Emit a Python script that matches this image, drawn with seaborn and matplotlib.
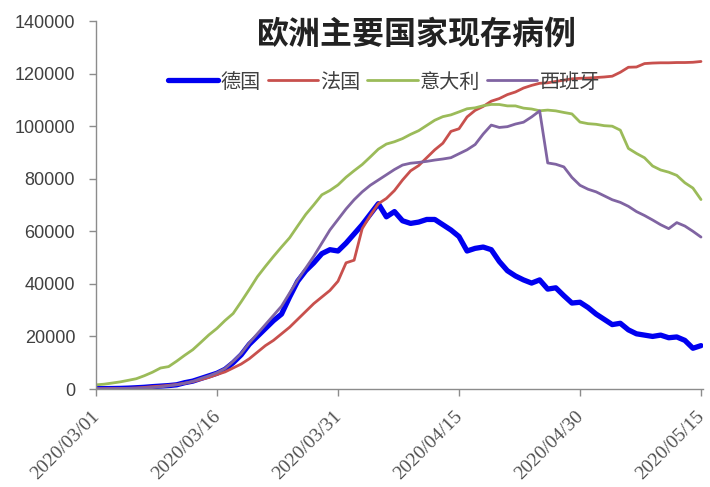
import numpy as np
import pandas as pd
import matplotlib
matplotlib.use("Agg")
import matplotlib.pyplot as plt
from matplotlib.transforms import ScaledTranslation
import seaborn as sns

# Daily active cases, 2020-03-01 .. 2020-05-15
dates = pd.date_range("2020-03-01", "2020-05-15", freq="D")
countries = ["德国", "法国", "意大利", "西班牙"]

germany = [120, 150, 180, 230, 330, 480, 650, 900, 1100, 1300,
           1600, 2400, 3000, 4000, 5000, 6000, 7500, 10000, 13000, 17000,
           20000, 23000, 26000, 28500, 35000, 41000, 45000, 48000, 51500, 53000,
           52500, 55500, 59000, 62500, 66500, 70500, 65500, 67500, 64000, 63000,
           63500, 64500, 64500, 62500, 60500, 58000, 52500, 53500, 54000, 53000,
           48500, 45000, 43000, 41500, 40300, 41500, 38000, 38500, 35500, 32700,
           33000, 31000, 28500, 26500, 24500, 25000, 22500, 21000, 20500, 20000,
           20500, 19500, 19800, 18500, 15500, 16500]

france = [100, 120, 170, 190, 260, 380, 600, 900, 1100, 1400,
          1700, 2200, 2800, 3600, 4400, 5500, 6500, 8000, 9500, 11500,
          14000, 16500, 18500, 21000, 23500, 26500, 29500, 32500, 35000, 37500,
          41000, 48000, 49000, 61000, 66000, 70500, 72500, 75500, 79500, 83000,
          85000, 88000, 91000, 93500, 98000, 99000, 103500, 106000, 107500, 109500,
          110500, 112000, 113000, 114500, 115500, 116300, 116500, 117000, 117500, 118000,
          118200, 118300, 118500, 118700, 119000, 120500, 122400, 122500, 123800, 124000,
          124100, 124100, 124200, 124200, 124300, 124600]

italy = [1577, 1835, 2263, 2706, 3296, 3916, 5061, 6387, 7985, 8514,
         10590, 12839, 14955, 17750, 20603, 23073, 26062, 28710, 33190, 37860,
         42681, 46638, 50418, 54030, 57521, 62013, 66414, 70065, 73880, 75528,
         77635, 80572, 83049, 85388, 88274, 91246, 93187, 94067, 95262, 96877,
         98273, 100269, 102253, 103616, 104291, 105418, 106607, 106962, 107771, 108257,
         108237, 107709, 107699, 106848, 106527, 105847, 106103, 105813, 105205, 104657,
         101551, 100943, 100704, 100179, 99980, 98467, 91528, 89624, 87961, 84842,
         83324, 82488, 81266, 78457, 76440, 72070]

spain = [80, 100, 130, 180, 230, 300, 400, 550, 800, 1200,
         1600, 2200, 2900, 4000, 5000, 6200, 7800, 10500, 13500, 17500,
         21000, 24500, 28000, 31500, 36500, 41500, 46000, 50500, 55500, 60500,
         64500, 68500, 72000, 75000, 77500, 79500, 81500, 83500, 85200, 85900,
         86200, 86600, 87100, 87500, 88000, 89500, 91000, 93000, 97000, 100400,
         99500, 99800, 100800, 101500, 103500, 105800, 86000, 85500, 84500, 80500,
         77500, 76000, 75000, 73500, 72000, 71000, 69500, 67500, 66000, 64300,
         62500, 61000, 63300, 62000, 60000, 57800]

tick_labels = ["2020/03/01", "2020/03/16", "2020/03/31",
               "2020/04/15", "2020/04/30", "2020/05/15"]
y_ticks = [0, 20000, 40000, 60000, 80000, 100000, 120000, 140000]

wide = pd.DataFrame({"day": np.arange(len(dates)),
                     "德国": germany, "法国": france,
                     "意大利": italy, "西班牙": spain})
long = wide.melt(id_vars="day", var_name="country", value_name="cases")

colors = {"德国": "#0000F0", "法国": "#C8504D", "意大利": "#9BBB59", "西班牙": "#8064A2"}
widths = {"德国": 3.8, "法国": 2.0, "意大利": 2.0, "西班牙": 2.0}

sns.set_theme(style="white")
plt.rcParams["font.family"] = ["Liberation Sans", "Noto Sans CJK SC", "DejaVu Sans"]

fig = plt.figure(figsize=(7.1, 4.87), dpi=100)
ax = fig.add_axes([96 / 710, 1 - 389 / 487, 607 / 710, 368 / 487])

for name in countries:
    sns.lineplot(data=long[long["country"] == name], x="day", y="cases",
                 color=colors[name], linewidth=widths[name], label=name,
                 ax=ax, legend=False)

ax.set_xlim(0, 75.25)
ax.set_ylim(0, 140000)
ax.set_xlabel("")
ax.set_ylabel("")

axis_gray = "#8C8C8C"
for side in ["top", "right"]:
    ax.spines[side].set_visible(False)
for side in ["left", "bottom"]:
    ax.spines[side].set_color(axis_gray)
    ax.spines[side].set_linewidth(1.0)

ax.set_yticks(y_ticks)
ax.set_yticklabels([str(v) for v in y_ticks], fontsize=13, color="#404040",
                   family=["Liberation Sans"])
ax.set_xticks(np.arange(0, 76, 15))
ax.set_xticklabels(tick_labels, fontsize=14, color="#505050",
                   family=["Liberation Serif"], rotation=45,
                   ha="right", va="center", rotation_mode="anchor")
ax.tick_params(axis="both", which="major", direction="out", length=5,
               width=1.0, color=axis_gray, left=True, bottom=True)
ax.tick_params(axis="y", pad=10)
ax.tick_params(axis="x", pad=13)
shift = ScaledTranslation(1 / 100, 0, fig.dpi_scale_trans)
for lab in ax.get_xticklabels():
    lab.set_transform(lab.get_transform() + shift)

handles, labels = ax.get_legend_handles_labels()
leg = fig.legend(handles, labels, loc="center left",
                 bbox_to_anchor=(168 / 710, 1 - 82 / 487),
                 ncol=4, frameon=False, borderpad=0, borderaxespad=0,
                 handlelength=2.5, handletextpad=0.1, columnspacing=0.35,
                 prop={"family": ["Noto Sans CJK SC"], "size": 14.5})
for txt in leg.get_texts():
    txt.set_color("#404040")

fig.text(417 / 710, 1 - 35 / 487, "欧洲主要国家现存病例", ha="center", va="center",
         fontsize=23, fontweight="bold", color="#222222",
         family=["Noto Sans CJK SC"])

fig.savefig("out.png", dpi=100)
